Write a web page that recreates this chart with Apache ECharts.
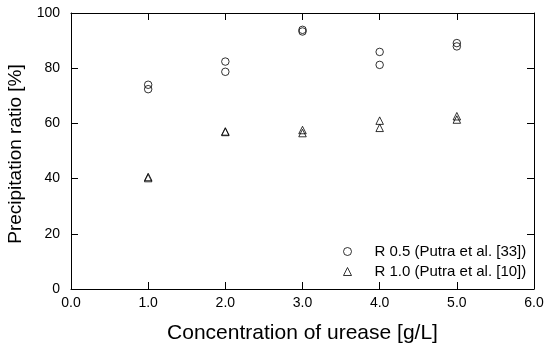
<!DOCTYPE html>
<html>
<head>
<meta charset="utf-8">
<script src="https://cdn.jsdelivr.net/npm/echarts@6/dist/echarts.min.js"></script>
<style>html,body{margin:0;padding:0;background:#fff;}#c{width:550px;height:343px;}</style>
</head>
<body>
<div id="c"></div>
<script>
var xTicks = [0, 1, 2, 3, 4, 5, 6];
var yTicks = [0, 20, 40, 60, 80, 100];
var seriesNames = ['R 0.5 (Putra et al. [33])', 'R 1.0 (Putra et al. [10])'];
var r05X = [1, 1, 2, 2, 3, 3, 4, 4, 5, 5];
var r05Y = [74.0, 72.4, 82.4, 78.7, 93.9, 93.3, 85.9, 81.2, 89.1, 87.9];
var r10X = [1, 1, 2, 2, 3, 3, 4, 4, 5, 5];
var r10Y = [40.6, 40.2, 57.1, 56.9, 57.6, 56.5, 61.0, 58.4, 62.6, 61.4];

function pairs(xs, ys) { return xs.map(function (x, i) { return [x, ys[i]]; }); }

var font = 'Liberation Sans, Arial, sans-serif';
var axisLine = { show: true, onZero: false, lineStyle: { color: '#000', width: 1 } };
var tick = { show: true, inside: true, length: 7, lineStyle: { color: '#000', width: 1 } };
var chart = echarts.init(document.getElementById('c'), null, { renderer: 'canvas' });
chart.setOption({
  animation: false,
  backgroundColor: '#fff',
  grid: { left: 71, right: 16, top: 13, bottom: 54, containLabel: false, outerBoundsMode: 'none' },
  legend: {
    orient: 'vertical', left: 338, top: 239, itemGap: 5,
    itemWidth: 8, itemHeight: 8,
    data: seriesNames,
    itemStyle: { color: 'transparent', borderColor: '#000', borderWidth: 1 },
    textStyle: { fontFamily: font, fontSize: 15, color: '#000', padding: [0, 0, 0, 18] }
  },
  xAxis: [{
    type: 'value', min: xTicks[0], max: xTicks[xTicks.length - 1], interval: 1,
    position: 'bottom',
    name: 'Concentration of urease [g/L]', nameLocation: 'middle', nameGap: 34,
    nameTextStyle: { fontFamily: font, fontSize: 21, color: '#000' },
    axisLine: axisLine, axisTick: tick,
    axisLabel: { fontFamily: font, fontSize: 14, color: '#000', margin: 7, formatter: function (v) { return v.toFixed(1); } },
    splitLine: { show: false }
  }, {
    type: 'value', min: 0, max: 6, interval: 1, position: 'top',
    axisLine: axisLine, axisTick: tick,
    axisLabel: { show: false }, splitLine: { show: false }
  }],
  yAxis: [{
    type: 'value', min: yTicks[0], max: yTicks[yTicks.length - 1], interval: 20,
    position: 'left',
    name: 'Precipitation ratio [%]', nameLocation: 'middle', nameGap: 46, nameRotate: 90,
    nameTextStyle: { fontFamily: font, fontSize: 19, color: '#000', padding: [0, 6, 0, 0] },
    axisLine: axisLine, axisTick: tick,
    axisLabel: { fontFamily: font, fontSize: 14, color: '#000', margin: 11 },
    splitLine: { show: false }
  }, {
    type: 'value', min: 0, max: 100, interval: 20, position: 'right',
    axisLine: axisLine, axisTick: tick,
    axisLabel: { show: false }, splitLine: { show: false }
  }],
  series: [{
    name: seriesNames[0], type: 'scatter', data: pairs(r05X, r05Y), xAxisIndex: 0, yAxisIndex: 0,
    symbol: 'circle', symbolSize: 7.5,
    itemStyle: { color: 'transparent', borderColor: '#000', borderWidth: 1 }
  }, {
    name: seriesNames[1], type: 'scatter', data: pairs(r10X, r10Y), xAxisIndex: 0, yAxisIndex: 0,
    symbol: 'triangle', symbolSize: 7.5,
    itemStyle: { color: 'transparent', borderColor: '#000', borderWidth: 1 }
  }]
});
</script>
</body>
</html>
